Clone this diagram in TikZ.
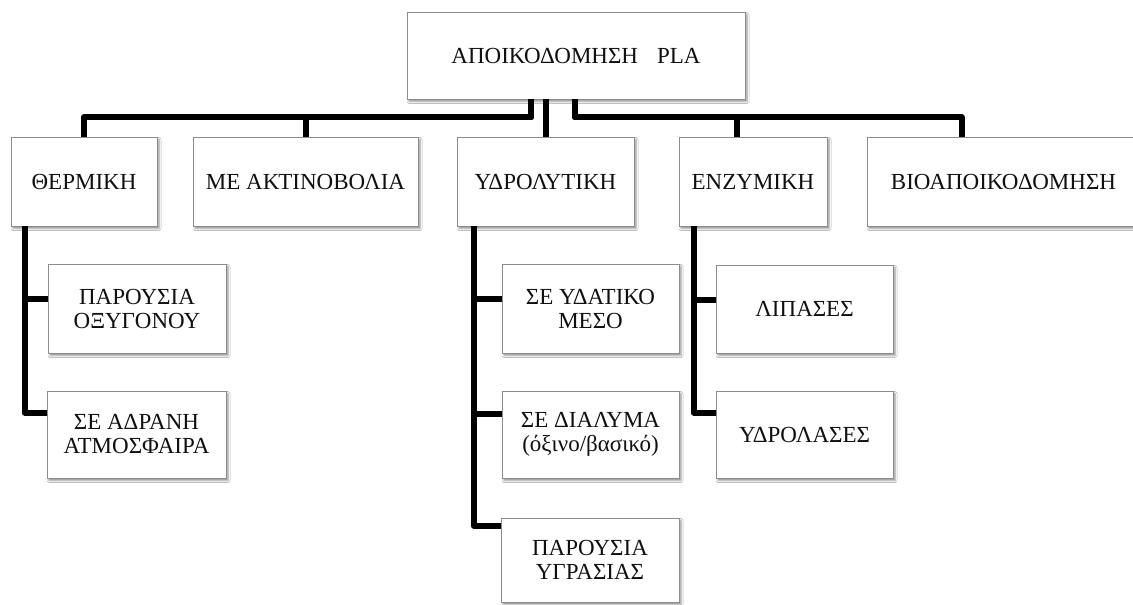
\documentclass[tikz,border=0pt]{standalone}
\usepackage{fontspec}
\setmainfont{Liberation Serif}
\usetikzlibrary{shadows.blur,calc}
\definecolor{boxline}{HTML}{8C8C8C}
\definecolor{txt}{HTML}{101010}
\tikzset{
  box/.style={draw=boxline, line width=0.8pt, fill=white, text=txt,
    blur shadow={shadow xshift=2pt, shadow yshift=-2.5pt, shadow blur radius=2pt, shadow opacity=45},
    align=center, inner sep=0pt, font=\fontsize{23}{24}\selectfont},
  conn/.style={draw=black, line width=6pt, line join=round}
}
\begin{document}
\begin{tikzpicture}[x=1pt,y=-1pt]
\useasboundingbox (0,0) rectangle (1133,605);
\fill[white] (0,0) rectangle (1133,605);
% level 0
\node[box, minimum width=338pt, minimum height=87pt] (root) at (576,55.5) {ΑΠΟΙΚΟΔΟΜΗΣΗ\hspace{19pt}PLA};
% level 1
\node[box, minimum width=146pt, minimum height=89pt] (th) at (84,181.5) {ΘΕΡΜΙΚΗ};
\node[box, minimum width=225pt, minimum height=89pt] (me) at (305.5,181.5) {ΜΕ ΑΚΤΙΝΟΒΟΛΙΑ};
\node[box, minimum width=177pt, minimum height=89pt] (hy) at (545.5,181.5) {ΥΔΡΟΛΥΤΙΚΗ};
\node[box, minimum width=148pt, minimum height=89pt] (en) at (753,181.5) {ΕΝΖΥΜΙΚΗ};
\node[box, minimum width=273pt, minimum height=89pt] (bio) at (1003.5,181.5) {ΒΙΟΑΠΟΙΚΟΔΟΜΗΣΗ};
% level 2
\node[box, minimum width=178pt, minimum height=89pt] (p1) at (137,308.5) {ΠΑΡΟΥΣΙΑ\\ΟΞΥΓΟΝΟΥ};
\node[box, minimum width=179pt, minimum height=87pt] (p2) at (136.5,434.5) {ΣΕ ΑΔΡΑΝΗ\\ΑΤΜΟΣΦΑΙΡΑ};
\node[box, minimum width=177pt, minimum height=89pt] (h1) at (590.5,308.5) {ΣΕ ΥΔΑΤΙΚΟ\\ΜΕΣΟ};
\node[box, minimum width=177pt, minimum height=87pt] (h2) at (590.5,434.5) {ΣΕ ΔΙΑΛΥΜΑ\\(όξινο/βασικό)};
\node[box, minimum width=178pt, minimum height=84pt] (h3) at (590,560) {ΠΑΡΟΥΣΙΑ\\ΥΓΡΑΣΙΑΣ};
\node[box, minimum width=177pt, minimum height=88pt] (e1) at (804.5,309) {ΛΙΠΑΣΕΣ};
\node[box, minimum width=177pt, minimum height=87pt] (e2) at (804.5,434.5) {ΥΔΡΟΛΑΣΕΣ};
% connectors from root
\draw[conn] ([xshift=-45pt]root.south) -- ++(0,18) -| (th.north);
\draw[conn] ([xshift=-45pt]root.south) -- ++(0,18) -| (me.north);
\draw[conn] (root.south -| hy.north) -- (hy.north);
\draw[conn] ([xshift=-1pt]root.south) -- ++(0,18) -| ([xshift=-16pt]en.north);
\draw[conn] ([xshift=-1pt]root.south) -- ++(0,18) -| ([xshift=95pt]bio.north west);
% thermal branch
\draw[conn] ([xshift=14pt]th.south west) |- ([yshift=-35pt]p1.north west);
\draw[conn] ([xshift=14pt]th.south west) |- ([yshift=-22pt]p2.north west);
% hydrolytic branch
\draw[conn] ([xshift=17pt]hy.south west) |- ([yshift=-35pt]h1.north west);
\draw[conn] ([xshift=17pt]hy.south west) |- ([yshift=-23pt]h2.north west);
\draw[conn] ([xshift=17pt]hy.south west) |- ([yshift=-8pt]h3.north west);
% enzymatic branch
\draw[conn] ([xshift=15pt]en.south west) |- ([yshift=-35pt]e1.north west);
\draw[conn] ([xshift=15pt]en.south west) |- ([yshift=-22pt]e2.north west);
\end{tikzpicture}
\end{document}
